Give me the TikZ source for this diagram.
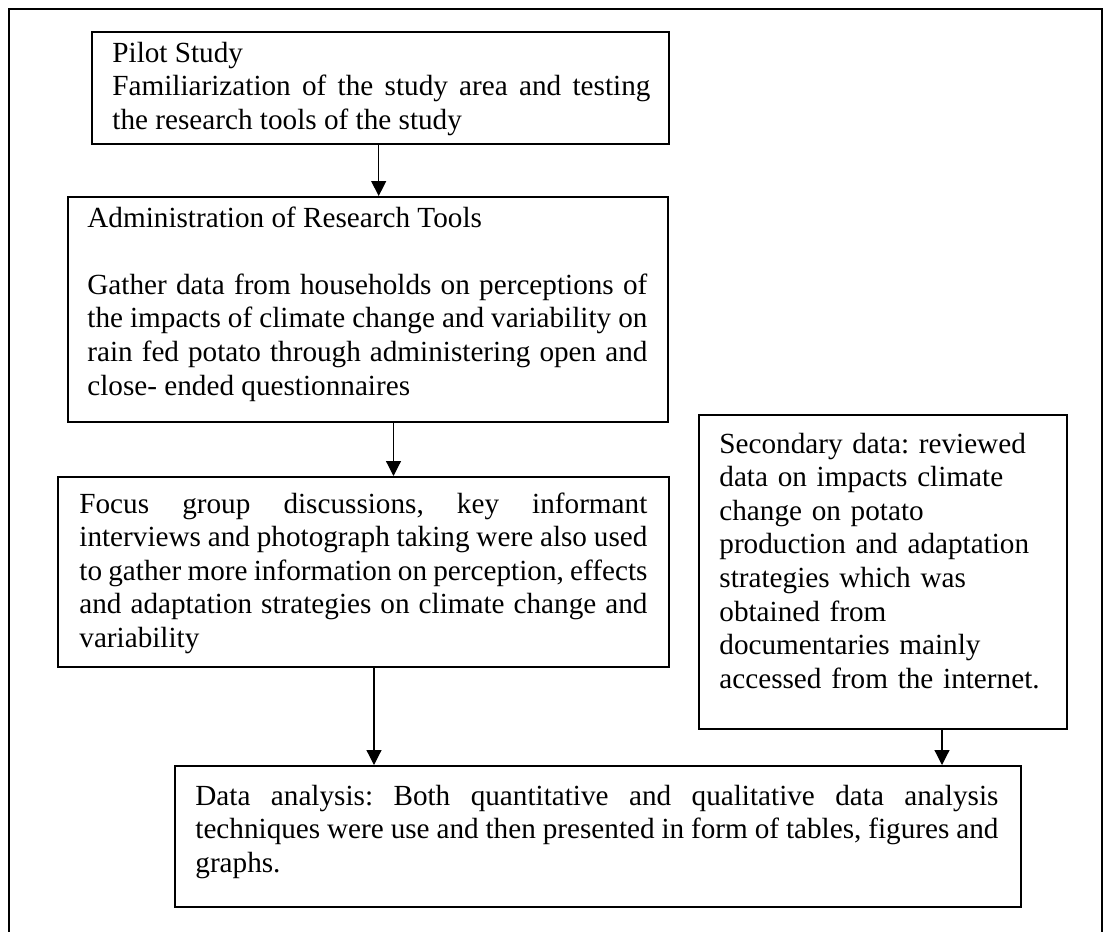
\documentclass[tikz,border=0pt]{standalone}
\usepackage{fontspec}
\setmainfont{Liberation Serif}
\usetikzlibrary{arrows.meta}
\frenchspacing
\begin{document}
\begin{tikzpicture}[x=0.5pt,y=-0.5pt,
  box/.style={draw, line width=0.75pt, inner sep=0pt, anchor=north west},
  txt/.style={inner sep=0pt, anchor=base west, font=\fontsize{14.6pt}{16.8pt}\selectfont\frenchspacing},
  jtxt/.style={txt, align=justify},
  ltxt/.style={txt, align=left},
  arr/.style={line width=0.6pt, -{Triangle[length=7.5pt,width=7.5pt]}}]
\useasboundingbox (0,0) rectangle (1110,932);
\draw[line width=0.75pt] (9,932) -- (9,9) -- (1102,9) -- (1102,932);

% boxes
\node[box, minimum width=288.5pt, minimum height=56pt] (pilot) at (91,31) {};
\node[box, minimum width=300pt, minimum height=112.5pt] (admin) at (67,196) {};
\node[box, minimum width=305.5pt, minimum height=95pt] (focus) at (57,476) {};
\node[box, minimum width=184pt, minimum height=157pt] (second) at (698,414) {};
\node[box, minimum width=423pt, minimum height=70.5pt] (data) at (174,765) {};

% texts
\node[jtxt, text width=269pt] (pilott) at (112,62)
  {Pilot Study\\Familiarization of the study area and testing\linebreak the research tools of the study};
\node[jtxt, text width=280pt] (admint) at (87,227)
  {Administration of Research Tools\\[16.8pt]Gather data from households on perceptions of\linebreak the impacts of climate change and variability on\linebreak rain fed potato through administering open and\linebreak close- ended questionnaires};
\node[jtxt, text width=284pt] (focust) at (79,513)
  {Focus group discussions, key informant\linebreak interviews and photograph taking were also used\linebreak to gather more information on perception, effects\linebreak and adaptation strategies on climate change and\linebreak variability};
\node[ltxt, text width=170pt] (secondt) at (719,453)
  {Secondary data: reviewed\\data on impacts climate\\change on potato\\production and adaptation\\strategies which was\\obtained from\\documentaries mainly\\accessed from the internet.};
\node[jtxt, text width=401.5pt] (datat) at (195,805)
  {Data analysis: Both quantitative and qualitative data analysis\linebreak techniques were use and then presented in form of tables, figures and\linebreak graphs.};

% connectors
\coordinate (c1) at (378.7,0);
\coordinate (c2) at (393.5,0);
\coordinate (c3) at (374,0);
\coordinate (c4) at (942,0);
\draw[arr] (c1 |- pilot.south) -- (c1 |- admin.north);
\draw[arr] (c2 |- admin.south) -- (c2 |- focus.north);
\draw[arr] (c3 |- focus.south) -- (c3 |- data.north);
\draw[arr] (c4 |- second.south) -- (c4 |- data.north);
\end{tikzpicture}
\end{document}
